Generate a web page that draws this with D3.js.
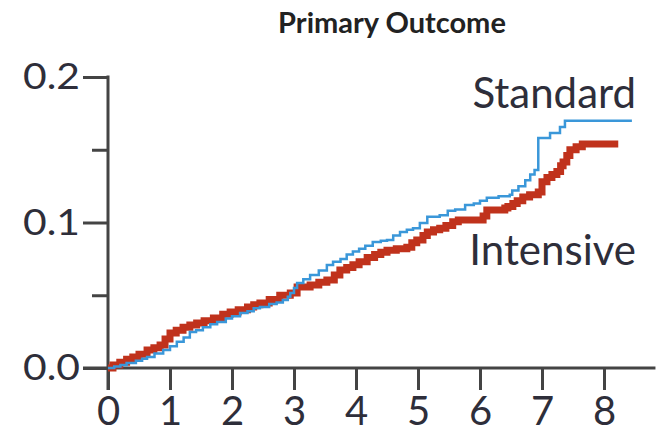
<!DOCTYPE html>
<html>
<head>
<meta charset="utf-8">
<script src="https://cdn.jsdelivr.net/npm/d3@7"></script>
<style>
html,body{margin:0;padding:0;background:#fff;}
svg{display:block;}
</style>
</head>
<body>
<svg id="chart" width="658" height="436"></svg>
<script>
const title = "Primary Outcome";
const xTicks = [0,1,2,3,4,5,6,7,8];
const yMajorTicks = [0.0, 0.1, 0.2];
const yMinorTicks = [0.05, 0.15];
const seriesNames = ["Standard", "Intensive"];

// [years, cumulative incidence]
const standardData = [
[0,0],[0.1,0.001],[0.2,0.002],[0.3,0.0034],[0.45,0.005],[0.55,0.0063],[0.63,0.0076],[0.75,0.010],[0.89,0.0124],
[1.0,0.015],[1.11,0.018],[1.22,0.021],[1.32,0.0247],[1.42,0.026],[1.53,0.028],[1.65,0.030],[1.76,0.0316],
[1.9,0.034],[2.0,0.0355],[2.13,0.0378],[2.25,0.039],[2.35,0.041],[2.45,0.042],[2.6,0.044],[2.72,0.045],
[2.82,0.0467],[2.9,0.049],[2.94,0.0515],[3.0,0.055],[3.05,0.0584],[3.15,0.061],[3.26,0.064],[3.4,0.067],[3.53,0.0708],
[3.63,0.073],[3.75,0.075],[3.85,0.078],[3.95,0.080],[4.05,0.082],[4.15,0.084],[4.27,0.0866],[4.4,0.0875],[4.5,0.088],
[4.6,0.091],[4.71,0.0935],[4.82,0.095],[4.92,0.096],[5.03,0.0997],[5.15,0.104],[5.35,0.105],[5.48,0.108],[5.6,0.109],
[5.76,0.112],[5.9,0.113],[6.0,0.115],[6.11,0.117],[6.3,0.118],[6.48,0.119],[6.52,0.122],[6.62,0.125],[6.73,0.129],
[6.81,0.133],[6.88,0.136],[6.94,0.158],[7.13,0.1615],[7.29,0.1656],[7.37,0.170],[8.45,0.170]
];
const intensiveData = [
[0,0],[0.08,0.002],[0.19,0.004],[0.3,0.006],[0.4,0.0076],[0.5,0.0095],[0.63,0.0124],[0.74,0.014],
[0.84,0.0158],[0.92,0.020],[1.0,0.024],[1.1,0.026],[1.21,0.028],[1.32,0.0295],[1.43,0.031],[1.55,0.0325],
[1.7,0.0344],[1.85,0.037],[1.97,0.0385],[2.1,0.040],[2.25,0.042],[2.35,0.0435],[2.45,0.0447],[2.6,0.047],
[2.77,0.050],[2.94,0.0515],[3.05,0.0557],[3.26,0.057],[3.4,0.059],[3.53,0.0605],[3.65,0.064],[3.74,0.0674],
[3.85,0.069],[3.95,0.071],[4.05,0.073],[4.18,0.076],[4.3,0.078],[4.4,0.0795],[4.5,0.081],[4.65,0.082],
[4.82,0.083],[4.9,0.086],[4.98,0.088],[5.08,0.091],[5.15,0.0935],[5.25,0.095],[5.35,0.096],[5.45,0.098],
[5.56,0.1005],[5.65,0.1017],[6.05,0.1045],[6.11,0.1086],[6.4,0.110],[6.45,0.111],[6.53,0.113],[6.6,0.115],
[6.69,0.1175],[6.8,0.119],[6.94,0.121],[7.0,0.128],[7.08,0.131],[7.16,0.133],[7.24,0.135],[7.3,0.139],
[7.34,0.1416],[7.4,0.146],[7.45,0.150],[7.55,0.152],[7.65,0.154],[8.23,0.154]
];

const svg = d3.select("#chart");
const font = "Lato, 'Open Sans', sans-serif";
const textColor = "#2e2e3a";
const axisColor = "#444";

const x = d3.scaleLinear().domain([0, 8]).range([108, 604]);
const y = d3.scaleLinear().domain([0, 0.2]).range([368, 77]);

// title
svg.append("text")
  .attr("x", 392).attr("y", 33)
  .attr("text-anchor", "middle")
  .attr("font-family", font).attr("font-weight", "bold")
  .attr("font-size", 29).attr("fill", "#222")
  .text(title);

// x axis
const xAxis = svg.append("g").attr("transform", `translate(0,${y(0)})`)
  .call(d3.axisBottom(x).tickValues(xTicks).tickSize(22).tickPadding(7).tickFormat(d3.format("d")));
xAxis.select(".domain").remove();
xAxis.selectAll(".tick line").attr("stroke", axisColor).attr("stroke-width", 3);
xAxis.selectAll(".tick text").attr("font-family", font).attr("font-size", 40).attr("fill", textColor);

// x baseline
svg.append("line")
  .attr("x1", x(0) - 25).attr("x2", x(8.83))
  .attr("y1", y(0)).attr("y2", y(0))
  .attr("stroke", axisColor).attr("stroke-width", 3);

// y axis
const yAxis = svg.append("g").attr("transform", `translate(${x(0)},0)`)
  .call(d3.axisLeft(y).tickValues(yMajorTicks).tickSize(25).tickPadding(3).tickFormat(d3.format(".1f")));
yAxis.select(".domain").remove();
yAxis.selectAll(".tick line").attr("stroke", axisColor).attr("stroke-width", 3);
yAxis.selectAll(".tick text").attr("font-family", font).attr("font-size", 37).attr("fill", textColor)
  .attr("textLength", 57).attr("lengthAdjust", "spacingAndGlyphs");

const yMinor = svg.append("g").attr("transform", `translate(${x(0)},0)`)
  .call(d3.axisLeft(y).tickValues(yMinorTicks).tickSize(16).tickFormat(""));
yMinor.select(".domain").remove();
yMinor.selectAll(".tick line").attr("stroke", axisColor).attr("stroke-width", 3);

svg.append("line")
  .attr("x1", x(0)).attr("x2", x(0))
  .attr("y1", y(0.2) - 1.5).attr("y2", y(0) + 22)
  .attr("stroke", axisColor).attr("stroke-width", 3);

const line = d3.line().x(d => x(d[0])).y(d => y(d[1])).curve(d3.curveStepAfter);

svg.append("path").datum(intensiveData)
  .attr("d", line).attr("fill", "none")
  .attr("stroke", "#c0321c").attr("stroke-width", 7);

svg.append("path").datum(standardData)
  .attr("d", line).attr("fill", "none")
  .attr("stroke", "#3a97d9").attr("stroke-width", 2.5);

// labels
svg.append("text").attr("x", 636).attr("y", 108).attr("text-anchor", "end")
  .attr("font-family", font).attr("font-size", 42).attr("fill", textColor)
  .text(seriesNames[0]);
svg.append("text").attr("x", 636).attr("y", 265).attr("text-anchor", "end")
  .attr("font-family", font).attr("font-size", 42).attr("fill", textColor)
  .text(seriesNames[1]);
</script>
</body>
</html>
